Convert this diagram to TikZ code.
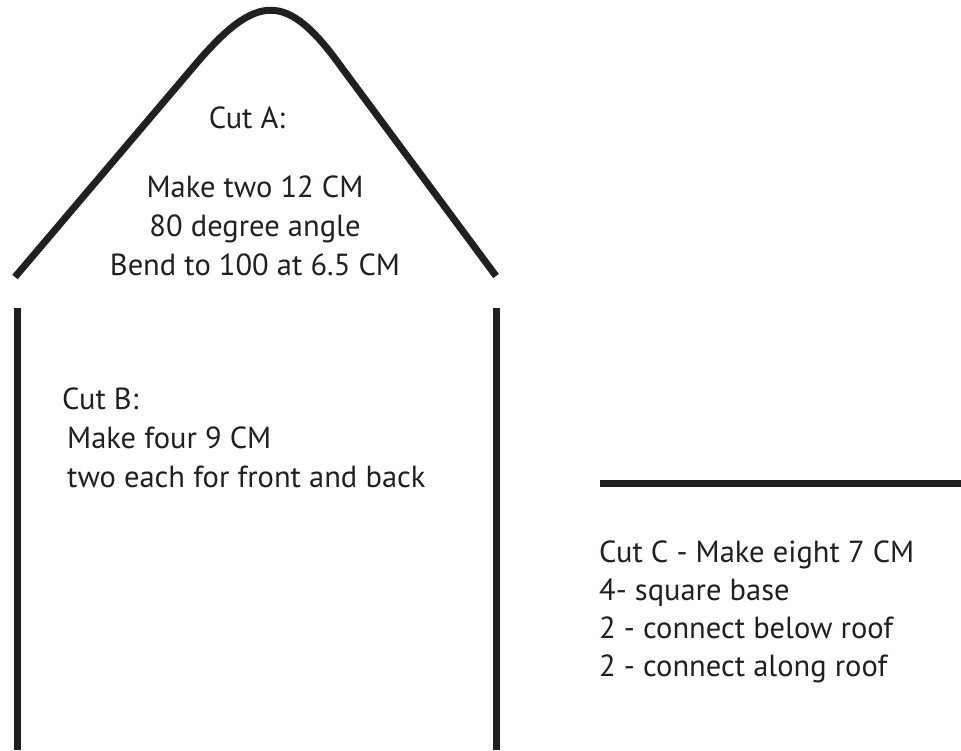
\documentclass[tikz,border=0pt]{standalone}
\usepackage{fontspec}
\setmainfont{PT Sans}
\definecolor{ink}{HTML}{231F20}
\tikzset{
  cutline/.style={line width=7pt, draw=ink},
  cuttext/.style={inner sep=0pt, text=ink, font=\fontsize{30.5}{36}\selectfont},
}

\begin{document}
\begin{tikzpicture}[x=1pt,y=-1pt]
\useasboundingbox (0,0) rectangle (961,750);
% roof piece
\draw[cutline] (15,277) -- (195,65) .. controls (257,-8) and (287,-9) .. (342,68) -- (496,276);
% wall pieces
\draw[cutline] (17,308) -- (17,750);
\draw[cutline] (496.5,308) -- (496.5,750);
% base piece
\draw[cutline] (600,483) -- (961,483);
% cut A
\node[cuttext, anchor=base] (cutA) at (247,128) {Cut A:};
\foreach \t [count=\i] in {Make two 12 CM, 80 degree angle, Bend to 100 at 6.5 CM}{
  \node[cuttext, anchor=base] (cutA\i) at (255,{158+39*\i}) {\t};
}
% cut B
\node[cuttext, anchor=base west] (cutB) at (62,409) {Cut B:};
\foreach \t [count=\i] in {Make four 9 CM, two each for front and back}{
  \node[cuttext, anchor=base west] (cutB\i) at (67,{409+39*\i}) {\t};
}
% cut C
\node[cuttext, anchor=base west] (cutC) at (599,562) {Cut C - Make eight 7 CM};
\foreach \t [count=\i] in {4- square base, 2 - connect below roof, 2 - connect along roof}{
  \node[cuttext, anchor=base west] (cutC\i) at (599,{562+38*\i}) {\t};
}
\end{tikzpicture}
\end{document}
